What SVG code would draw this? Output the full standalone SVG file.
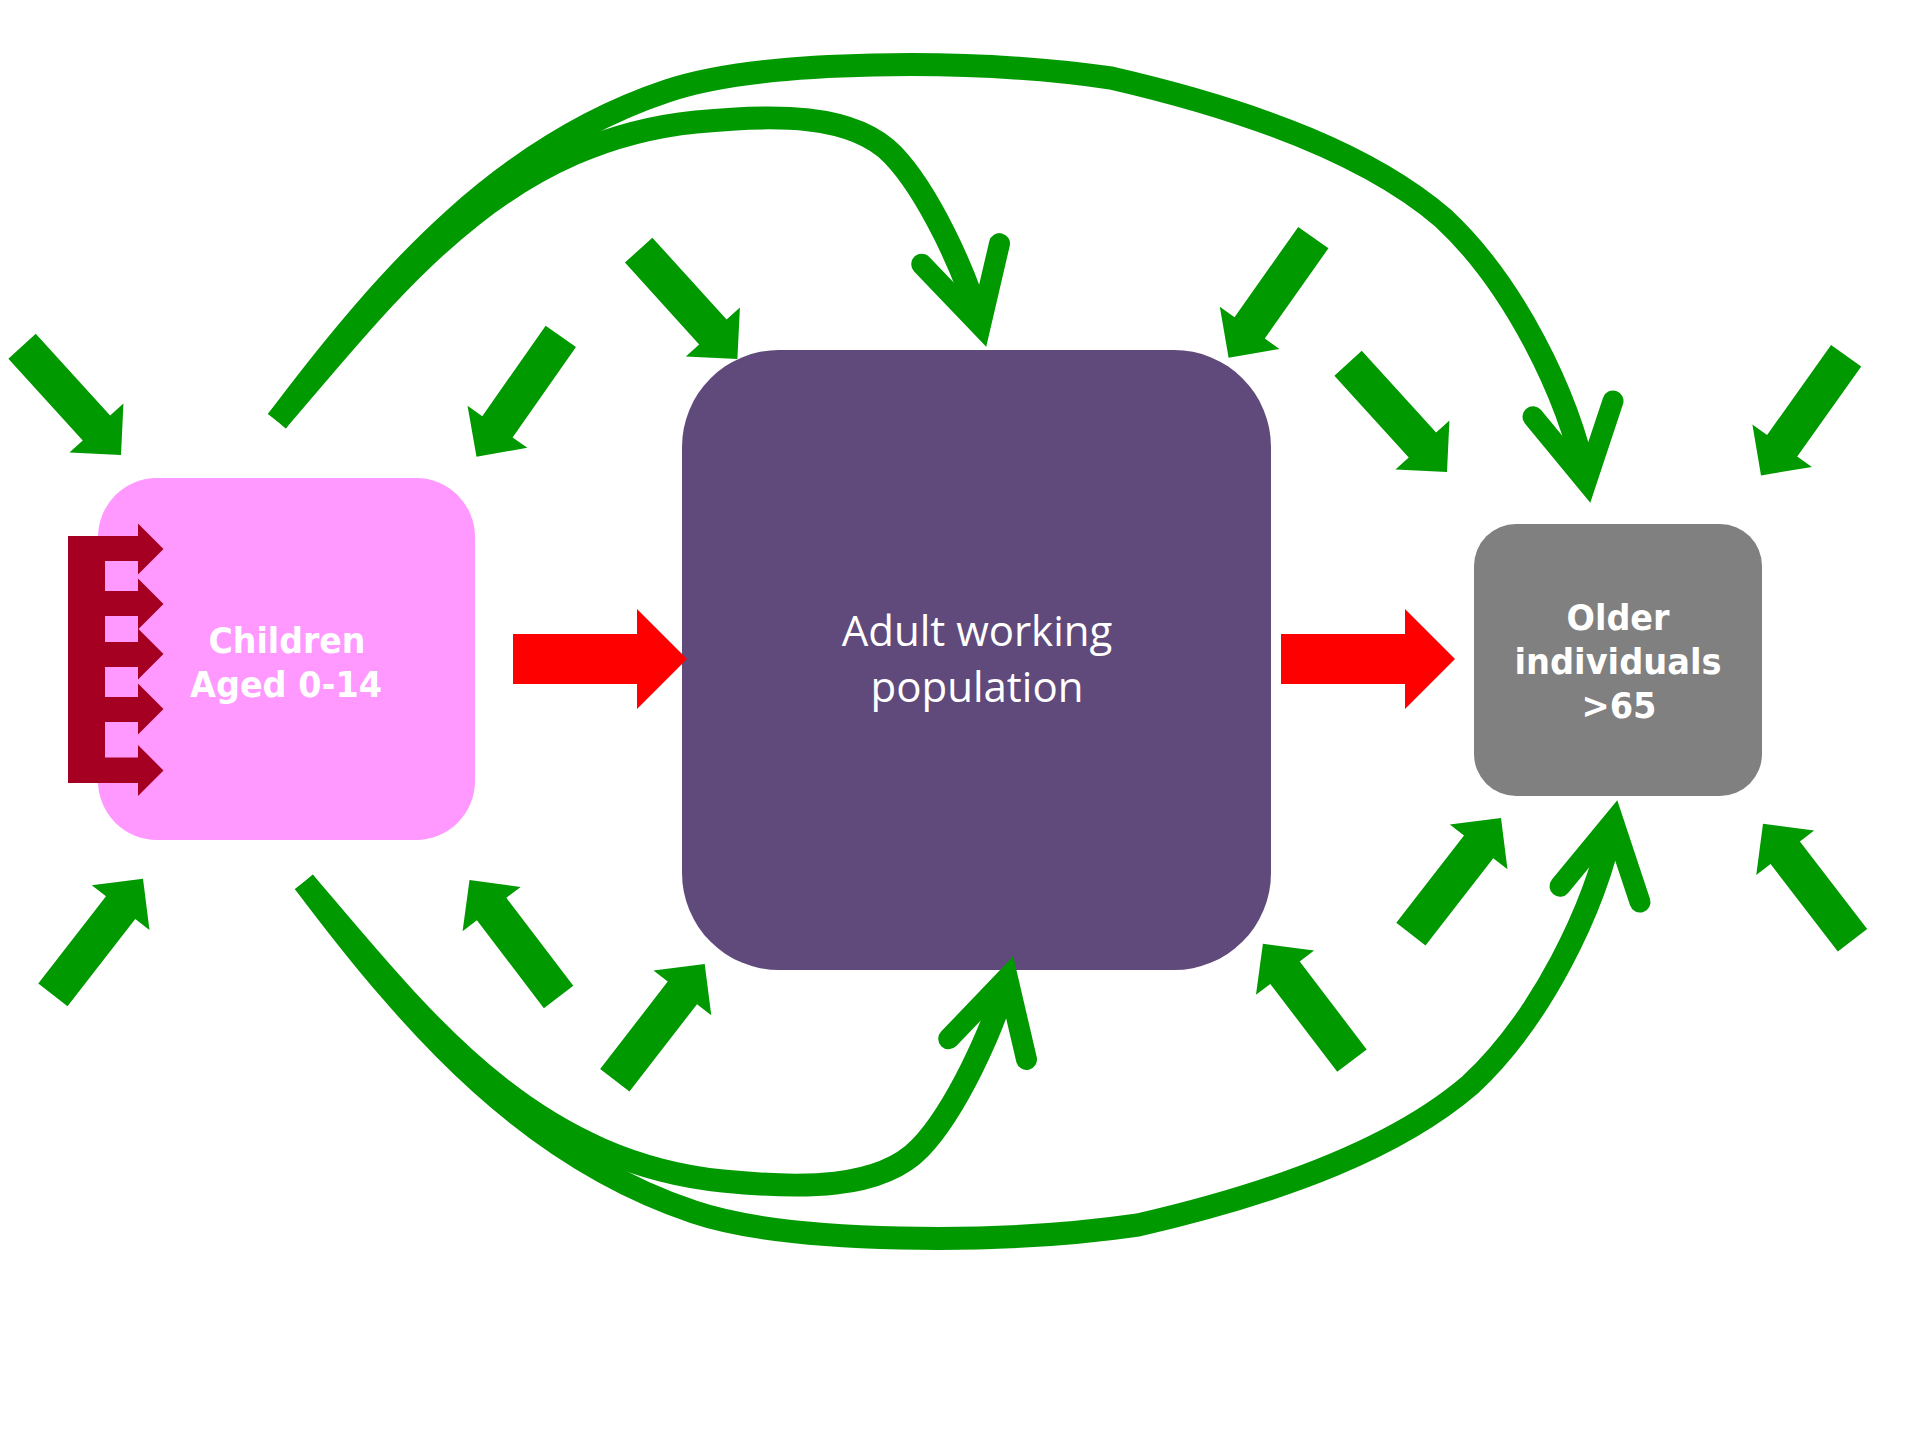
<svg xmlns="http://www.w3.org/2000/svg" width="1920" height="1440" viewBox="0 0 1920 1440">
<defs>
<style>
.node-text{font-family:"DejaVu Sans",Verdana,sans-serif;font-weight:bold;font-size:36px;fill:#FFFFFF}
.adult-text{font-family:"Open Sans","Noto Sans",sans-serif;font-size:42px;fill:#FFFFFF}
.curve{fill:none;stroke:#009900;stroke-width:23;stroke-linecap:butt;stroke-linejoin:round}
.head{fill:none;stroke:#009900;stroke-width:21;stroke-linecap:round;stroke-linejoin:miter;stroke-miterlimit:10}
.inflow{fill:#009900}
.flow{fill:#FF0000}
</style>
<path id="ga" d="M0,0 L-36.5,-36.5 L-36.5,-18.5 L-147,-18.5 L-147,18.5 L-36.5,18.5 L-36.5,36.5 Z"/>
</defs>
<rect width="1920" height="1440" fill="#FFFFFF"/>

<g id="node-children">
<rect x="98" y="478" width="377" height="362" rx="59" ry="59" fill="#FF99FF"/>
<path fill="#A50021" d="M68,536 H138 V523.5 L163.5,549 L138,574.5 V561 H105 V591 H138 V578.5 L163.5,604 L138,629.5 V616 H105 V642 H138 V628.5 L163.5,654 L138,679.5 V667 H105 V697 H138 V683.5 L163.5,709 L138,734.5 V722 H105 V757.5 H138 V745 L163.5,770.5 L138,796 V783 H68 Z"/>
<text class="node-text" x="287" y="653" text-anchor="middle" textLength="157" lengthAdjust="spacingAndGlyphs">Children</text>
<text class="node-text" x="286" y="697" text-anchor="middle" textLength="192" lengthAdjust="spacingAndGlyphs">Aged 0-14</text>
</g>

<g id="node-adult">
<rect x="682" y="350" width="589" height="620" rx="97" ry="97" fill="#604A7B"/>
<text class="adult-text" text-anchor="middle"><tspan x="977" y="646">Adult working</tspan><tspan x="977" y="702">population</tspan></text>
</g>

<g id="node-older">
<rect x="1474" y="524" width="288" height="272" rx="42" ry="42" fill="#808080"/>
<text class="node-text" x="1618" y="630" text-anchor="middle" textLength="103" lengthAdjust="spacingAndGlyphs">Older</text>
<text class="node-text" x="1618" y="674" text-anchor="middle" textLength="207" lengthAdjust="spacingAndGlyphs">individuals</text>
<text class="node-text" x="1619" y="718" text-anchor="middle" textLength="75" lengthAdjust="spacingAndGlyphs">&gt;65</text>
</g>

<g id="connectors">
<g id="ageing-flows">
<polygon class="flow" points="513,634 637,634 637,609 687,659 637,709 637,684 513,684"/>
<polygon class="flow" points="1281,634 1405,634 1405,609 1455,659 1405,709 1405,684 1281,684"/>
</g>
<g id="curves">
<path class="curve" d="M277,421 C391,269 505,145 667,91 C762,59 973,58 1111,78 C1263,113 1373,158 1443,218 C1513,283 1568,393 1586.3,481.4"/>
<polyline class="head" points="1533,416.8 1586.3,481.4 1613,401"/>
<path class="curve" d="M277,421 C388,293 497,142 696,122 C773,114.3 853,113 893,155 C928,191.5 965.9,272.3 980.4,325.4"/>
<polyline class="head" points="921.7,264.2 980.4,325.4 999.5,243.6"/>
<path class="curve" d="M304,882 C418,1034 532,1158 694,1212 C789,1244 1000,1245 1138,1225 C1290,1190 1400,1145 1470,1085 C1540,1020 1595,910 1613.3,821.6"/>
<polyline class="head" points="1560,886.2 1613.3,821.6 1640,902"/>
<path class="curve" d="M304,882 C415,1010 524,1161 723,1181 C800,1188.7 880,1190 920,1148 C955,1111.5 992.9,1030.7 1007.4,977.6"/>
<polyline class="head" points="948.7,1038.8 1007.4,977.6 1026.5,1059.4"/>
</g>
<g id="inflows" class="inflow">
<use href="#ga" transform="translate(121,455) rotate(47.7)"/>
<use href="#ga" transform="translate(476.5,456.7) rotate(125)"/>
<use href="#ga" transform="translate(737.4,359) rotate(47.8)"/>
<use href="#ga" transform="translate(1228.6,357.7) rotate(125.2)"/>
<use href="#ga" transform="translate(1447,472) rotate(47.7)"/>
<use href="#ga" transform="translate(1761,475.5) rotate(125.4)"/>
<use href="#ga" transform="translate(143,878.7) rotate(-52.2)"/>
<use href="#ga" transform="translate(469.5,880) rotate(-127.3)"/>
<use href="#ga" transform="translate(704.7,964) rotate(-52.3)"/>
<use href="#ga" transform="translate(1262.9,943.7) rotate(-127.3)"/>
<use href="#ga" transform="translate(1501,818) rotate(-52.2)"/>
<use href="#ga" transform="translate(1763,823.7) rotate(-127.5)"/>
</g>
</g>
</svg>
